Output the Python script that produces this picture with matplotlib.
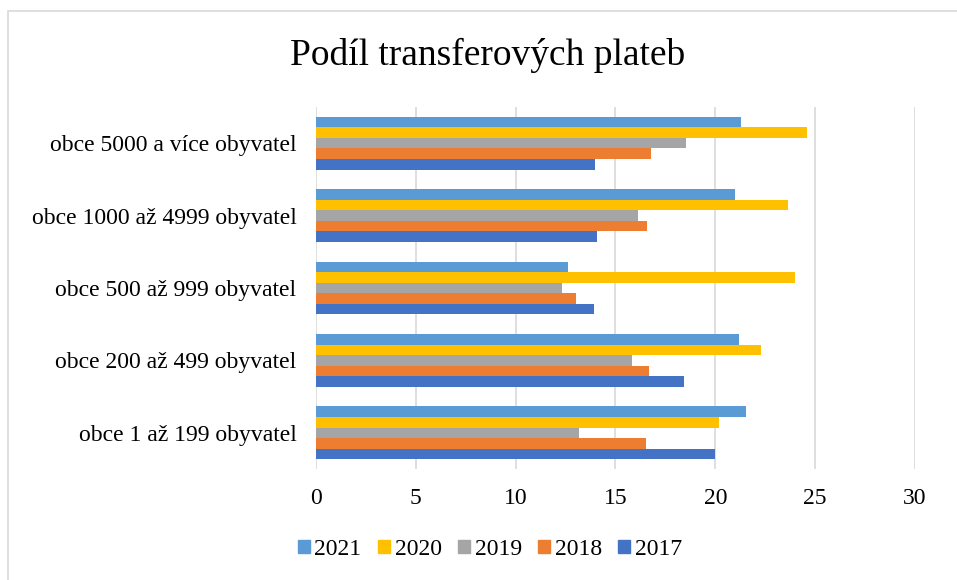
import matplotlib.pyplot as plt
import matplotlib.patches as mpatches
import numpy as np

plt.rcParams['font.family'] = ['Liberation Serif', 'DejaVu Serif']

categories = ['obce 1 až 199 obyvatel', 'obce 200 až 499 obyvatel',
              'obce 500 až 999 obyvatel', 'obce 1000 až 4999 obyvatel',
              'obce 5000 a více obyvatel']
years = ['2021', '2020', '2019', '2018', '2017']
colors = ['#5B9BD5', '#FFC000', '#A5A5A5', '#ED7D31', '#4472C4']

v2021 = [21.55, 21.2, 12.6, 21.0, 21.3]
v2020 = [20.2, 22.3, 24.0, 23.65, 24.6]
v2019 = [13.15, 15.85, 12.3, 16.15, 18.55]
v2018 = [16.55, 16.7, 13.0, 16.6, 16.8]
v2017 = [20.0, 18.45, 13.95, 14.1, 14.0]
series = [v2021, v2020, v2019, v2018, v2017]

fig = plt.figure(figsize=(9.57, 5.8), dpi=100)
ax = fig.add_axes([0.3302, 0.1914, 0.6258, 0.6241])

y = np.arange(len(categories))
h = 0.146
for i, (vals, yr, c) in enumerate(zip(series, years, colors)):
    offs = (2 - i) * h
    ax.barh(y + offs, vals, height=h, color=c, label=yr, zorder=3)

ax.set_xlim(0, 30)
ax.set_ylim(-0.5, 4.5)
ax.set_xticks(range(0, 31, 5))
ax.set_yticks(y)
ax.set_yticklabels(categories, fontsize=17)
ax.tick_params(axis='x', labelsize=17, length=0, pad=14)
ax.tick_params(axis='y', length=0, pad=14)
ax.grid(axis='x', color='#D9D9D9', linewidth=1.2, zorder=0)
for s in ax.spines.values():
    s.set_visible(False)

fig.text(0.51, 0.905, 'Podíl transferových plateb', ha='center', va='center', fontsize=27)

handles = [mpatches.Patch(color=c, label=yr) for c, yr in zip(colors, years)]
fig.legend(handles=handles, loc='center', bbox_to_anchor=(0.512, 0.053), ncol=5,
           frameon=False, fontsize=17, handlelength=0.5, handleheight=0.5,
           handletextpad=0.2, columnspacing=0.7)

border = mpatches.Rectangle((8 / 957, -0.1), 1.2, 1 - 11 / 580 + 0.1, transform=fig.transFigure,
                            fill=False, edgecolor='#D9D9D9', linewidth=1.2)
fig.patches.append(border)

plt.savefig('out.png', dpi=100)
